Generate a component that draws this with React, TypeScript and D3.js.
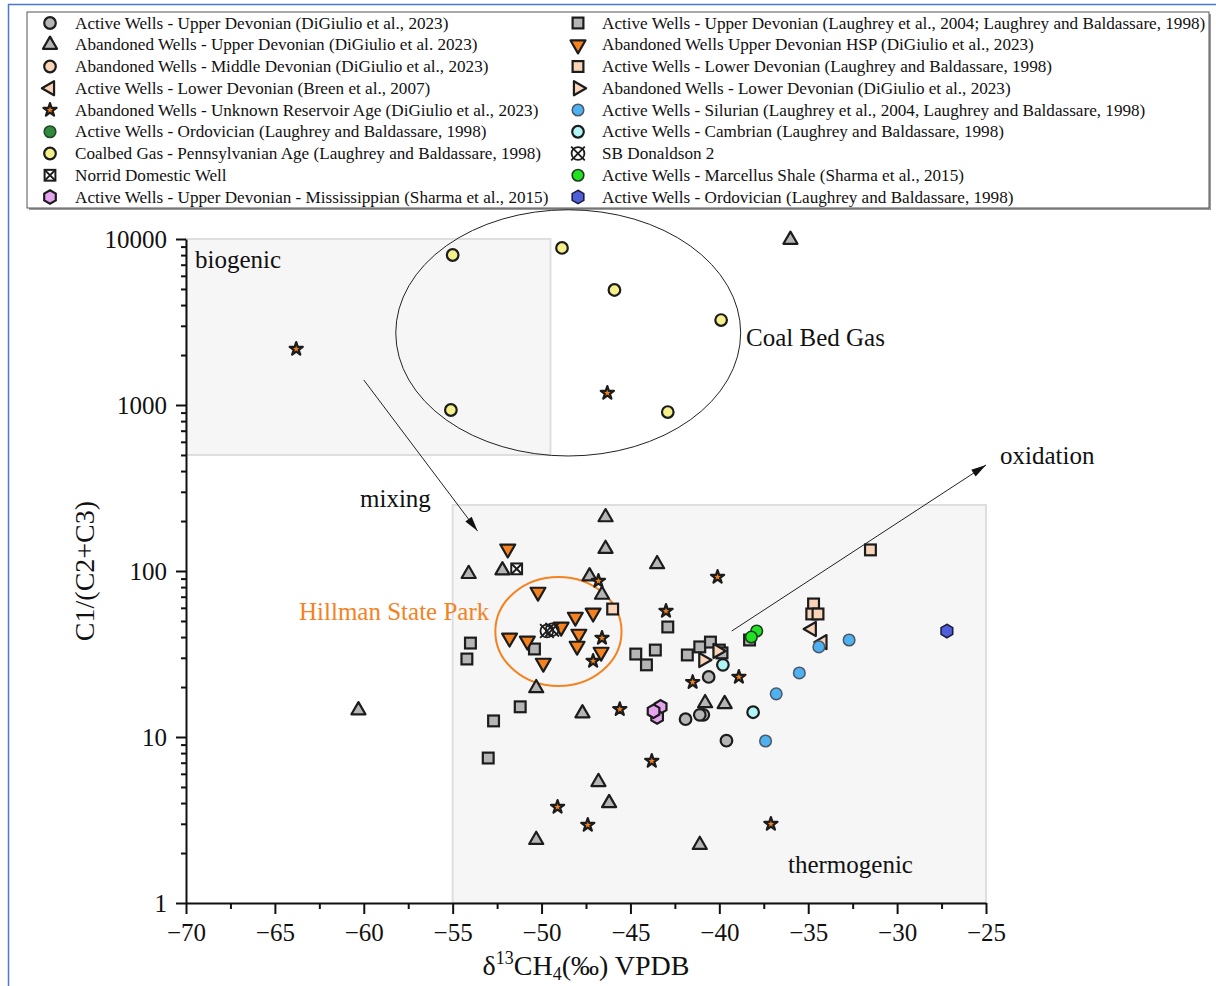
import { useEffect, useRef } from "react";
import * as d3 from "d3";

const W = 1216;
const H = 986;
const X0 = 186;
const X1 = 986;
const Y0 = 903;
const Y1 = 239;
const SERIF = "'Liberation Serif', 'Times New Roman', serif";

// values: [d13C, C1/(C2+C3)]
const activeUpperDevDiGiulio = [[-40.6, 23.0], [-41.9, 12.8], [-40.9, 13.6], [-41.1, 13.6], [-39.6, 9.5]];
const abandonedUpperDev = [
  [-36.0, 9900], [-60.3, 14.5], [-54.1, 96], [-52.2, 101], [-46.4, 211], [-46.4, 136], [-43.5, 110],
  [-47.3, 93], [-46.6, 72], [-50.3, 19.7], [-47.7, 13.9], [-40.8, 16.0], [-39.7, 15.8], [-46.8, 5.36],
  [-46.2, 4.0], [-50.3, 2.4], [-41.1, 2.24],
];
const abandonedMiddleDev: number[][] = [];
const activeLowerDevBreen = [[-34.8, 44.7], [-34.2, 37.3]];
const abandonedUnknown = [
  [-63.8, 2175], [-46.3, 1181], [-46.8, 87], [-43.0, 57.4], [-46.6, 39.5], [-47.1, 28.7], [-40.1, 92],
  [-41.5, 21.4], [-38.9, 23.0], [-45.6, 14.7], [-43.8, 7.17], [-49.1, 3.79], [-47.4, 2.95], [-37.1, 2.99],
];
const activeOrdovicianGreen: number[][] = [];
const coalbedGas = [[-48.85, 8830], [-55.0, 8010], [-45.9, 4930], [-39.9, 3250], [-55.1, 933], [-42.9, 907]];
const norridWell = [[-51.4, 103]];
const sharmaUpperDevMiss = [[-43.3, 15.2], [-43.5, 13.2], [-43.7, 14.3]];
const activeUpperDevLaughrey = [
  [-54.0, 36.8], [-54.2, 29.5], [-52.7, 12.5], [-51.2, 15.2], [-53.0, 7.47], [-50.4, 33.9], [-42.9, 46.0],
  [-44.7, 31.6], [-44.1, 27.2], [-43.6, 33.4], [-41.8, 31.2], [-41.1, 34.9], [-40.5, 37.3], [-40.0, 33.4],
  [-39.85, 32.1], [-38.3, 38.4],
];
const abandonedHSP = [
  [-51.9, 136], [-50.2, 74.7], [-51.8, 39.5], [-50.8, 37.9], [-49.9, 27.9], [-48.9, 46.0], [-48.1, 52.8],
  [-47.1, 55.9], [-47.9, 41.7], [-48.0, 35.3], [-46.65, 32.5],
];
const activeLowerDevLaughrey = [[-31.5, 134], [-34.7, 63.3], [-34.8, 55.1], [-34.45, 55.1], [-46.0, 59.0]];
const abandonedLowerDev = [[-40.9, 29.1], [-40.1, 33.0]];
const silurian = [[-32.7, 38.4], [-34.4, 34.9], [-35.5, 24.3], [-36.8, 18.2], [-37.4, 9.46]];
const cambrian = [[-39.8, 27.2], [-38.1, 14.1]];
const sbDonaldson = [[-49.7, 43.5], [-49.4, 44.3]];
const marcellus = [[-37.9, 43.5], [-38.2, 40.0]];
const ordovicianHex = [[-27.2, 43.5]];

// zones, ellipses and arrows in data units
const biogenicZone = { x: [-70, -49.5], y: [500, 10000] };
const thermogenicZone = { x: [-55, -25], y: [1, 250] };
const coalEllipse = { x: [-58.2, -38.8], y: [493, 15000] };
const hillmanEllipse = { x: [-52.6, -45.5], y: [20.3, 92] };
const mixingArrow = [[-60.0, 1415], [-53.6, 174]];
const oxidationArrow = [[-39.3, 43.5], [-25.0, 435]];

const xTicks = d3.range(-70, -24, 5);
const xMinor = d3.range(-67.5, -25, 5);
const yTicks = [1, 10, 100, 1000, 10000];
const yMinor = [1, 10, 100, 1000].flatMap((d) => d3.range(2, 10).map((k) => k * d));

type Shape = "circle" | "triUp" | "triDown" | "triLeft" | "triRight" | "square" | "star" | "hex" | "squareX" | "circleX";
type Series = { label: string; shape: Shape; fill: string; stroke: string; sw: number; data: number[][] };

const DARK = "#1c1c1c";
const GRAY = "#b5b5b5";
const PEACH = "#f9d4b8";

const leftCol: Series[] = [
  { label: "Active Wells - Upper Devonian (DiGiulio et al., 2023)", shape: "circle", fill: GRAY, stroke: DARK, sw: 2.2, data: activeUpperDevDiGiulio },
  { label: "Abandoned Wells - Upper Devonian (DiGiulio et al. 2023)", shape: "triUp", fill: GRAY, stroke: DARK, sw: 2.2, data: abandonedUpperDev },
  { label: "Abandoned Wells - Middle Devonian (DiGiulio et al., 2023)", shape: "circle", fill: PEACH, stroke: DARK, sw: 2.2, data: abandonedMiddleDev },
  { label: "Active Wells - Lower Devonian (Breen et al., 2007)", shape: "triLeft", fill: PEACH, stroke: DARK, sw: 2.2, data: activeLowerDevBreen },
  { label: "Abandoned Wells - Unknown Reservoir Age (DiGiulio et al., 2023)", shape: "star", fill: "#f0801e", stroke: DARK, sw: 2.2, data: abandonedUnknown },
  { label: "Active Wells - Ordovician (Laughrey and Baldassare, 1998)", shape: "circle", fill: "#338a3c", stroke: "#1d4a22", sw: 1.6, data: activeOrdovicianGreen },
  { label: "Coalbed Gas - Pennsylvanian Age (Laughrey and Baldassare, 1998)", shape: "circle", fill: "#f6f08a", stroke: DARK, sw: 2.2, data: coalbedGas },
  { label: "Norrid Domestic Well", shape: "squareX", fill: "#ffffff", stroke: DARK, sw: 2, data: norridWell },
  { label: "Active Wells - Upper Devonian - Mississippian (Sharma et al., 2015)", shape: "hex", fill: "#e6a4ee", stroke: DARK, sw: 2.2, data: sharmaUpperDevMiss },
];

const rightCol: Series[] = [
  { label: "Active Wells - Upper Devonian (Laughrey et al., 2004; Laughrey and Baldassare, 1998)", shape: "square", fill: GRAY, stroke: DARK, sw: 2.2, data: activeUpperDevLaughrey },
  { label: "Abandoned Wells Upper Devonian HSP (DiGiulio et al., 2023)", shape: "triDown", fill: "#f5821f", stroke: DARK, sw: 2.2, data: abandonedHSP },
  { label: "Active Wells - Lower Devonian (Laughrey and Baldassare, 1998)", shape: "square", fill: PEACH, stroke: DARK, sw: 2.2, data: activeLowerDevLaughrey },
  { label: "Abandoned Wells - Lower Devonian (DiGiulio et al., 2023)", shape: "triRight", fill: PEACH, stroke: DARK, sw: 2.2, data: abandonedLowerDev },
  { label: "Active Wells - Silurian (Laughrey et al., 2004, Laughrey and Baldassare, 1998)", shape: "circle", fill: "#4fb1ef", stroke: "#4a5866", sw: 1.5, data: silurian },
  { label: "Active Wells - Cambrian (Laughrey and Baldassare, 1998)", shape: "circle", fill: "#b0f6f6", stroke: DARK, sw: 2.2, data: cambrian },
  { label: "SB Donaldson 2", shape: "circleX", fill: "none", stroke: DARK, sw: 1.8, data: sbDonaldson },
  { label: "Active Wells - Marcellus Shale (Sharma et al., 2015)", shape: "circle", fill: "#22e022", stroke: "#1e3d1e", sw: 1.6, data: marcellus },
  { label: "Active Wells - Ordovician (Laughrey and Baldassare, 1998)", shape: "hex", fill: "#4f5fd9", stroke: "#1c1c40", sw: 1.6, data: ordovicianHex },
];

// drawing order on the plot (back to front)
const drawOrder: Series[] = [
  rightCol[0], leftCol[1], leftCol[0], leftCol[2], rightCol[2], leftCol[3], rightCol[3], rightCol[5],
  rightCol[4], rightCol[7], rightCol[8], leftCol[8], leftCol[6], leftCol[5], leftCol[4], rightCol[1],
  rightCol[6], leftCol[7],
];

const TRI = d3.symbol().type(d3.symbolTriangle).size(86)()!;
const TRI_DOWN = d3.symbol().type(d3.symbolTriangle).size(96)()!;
const STAR = d3.symbol().type(d3.symbolStar).size(54)()!;
const HEX =
  d3.line()(
    d3.range(6).map((i) => {
      const a = (Math.PI / 3) * i - Math.PI / 2;
      return [6.7 * Math.cos(a), 6.7 * Math.sin(a)] as [number, number];
    })
  ) + "Z";

const Marker = ({ s, x, y }: { s: Series; x: number; y: number }) => {
  const st = { fill: s.fill, stroke: s.stroke, strokeWidth: s.sw };
  const t = `translate(${x},${y})`;
  switch (s.shape) {
    case "circle":
      return <circle cx={x} cy={y} r={5.8} {...st} />;
    case "square":
      return <rect x={x - 5.4} y={y - 5.4} width={10.8} height={10.8} {...st} />;
    case "triUp":
      return <path d={TRI} transform={t} {...st} strokeLinejoin="round" />;
    case "triDown":
      return <path d={TRI_DOWN} transform={`${t} rotate(180)`} {...st} strokeLinejoin="round" />;
    case "triLeft":
      return <path d={TRI} transform={`${t} rotate(-90)`} {...st} strokeLinejoin="round" />;
    case "triRight":
      return <path d={TRI} transform={`${t} rotate(90)`} {...st} strokeLinejoin="round" />;
    case "star":
      return <path d={STAR} transform={t} {...st} strokeLinejoin="round" />;
    case "hex":
      return <path d={HEX} transform={t} {...st} />;
    case "squareX":
      return (
        <g transform={t} {...st}>
          <rect x={-5.4} y={-5.4} width={10.8} height={10.8} />
          <path d="M-5.4,-5.4L5.4,5.4M5.4,-5.4L-5.4,5.4" fill="none" />
        </g>
      );
    case "circleX":
      return (
        <g transform={t} stroke={s.stroke} strokeWidth={s.sw} fill="none">
          <circle r={6.4} />
          <path d="M-6.8,-6.8L6.8,6.8M6.8,-6.8L-6.8,6.8" />
        </g>
      );
  }
  return null;
};

const x = d3.scaleLinear().domain([-70, -25]).range([X0, X1]);
const y = d3.scaleLog().domain([1, 10000]).range([Y0, Y1]);

const ellipseProps = (e: { x: number[]; y: number[] }) => {
  const [l, r] = e.x.map(x);
  const [b, t] = e.y.map(y);
  return { cx: (l + r) / 2, cy: (t + b) / 2, rx: (r - l) / 2, ry: (b - t) / 2 };
};

const zoneProps = (z: { x: number[]; y: number[] }) => ({
  x: x(z.x[0]),
  y: y(z.y[1]),
  width: x(z.x[1]) - x(z.x[0]),
  height: y(z.y[0]) - y(z.y[1]),
});

const Arrow = ({ pts }: { pts: number[][] }) => {
  const [x1, y1] = [x(pts[0][0]), y(pts[0][1])];
  const [x2, y2] = [x(pts[1][0]), y(pts[1][1])];
  const ang = (Math.atan2(y2 - y1, x2 - x1) * 180) / Math.PI;
  return (
    <g>
      <line x1={x1} y1={y1} x2={x2} y2={y2} stroke="#222" strokeWidth={1} />
      <path d="M0,0L-15,-4L-15,4Z" transform={`translate(${x2},${y2}) rotate(${ang})`} fill="#111" />
    </g>
  );
};

export default function App() {
  const xAxisRef = useRef<SVGGElement>(null);
  const yAxisRef = useRef<SVGGElement>(null);

  useEffect(() => {
    const gx = d3.select(xAxisRef.current);
    gx.selectAll("*").remove();
    gx.append("g")
      .call(d3.axisBottom(x).tickValues(xMinor).tickSize(6).tickSizeOuter(0).tickFormat(() => ""))
      .call((g) => g.select(".domain").remove());
    gx.append("g").call(
      d3.axisBottom(x).tickValues(xTicks).tickSize(11).tickSizeOuter(0).tickFormat((d) => d3.format("d")(d as number).replace("-", "\u2212"))
    );
    gx.selectAll("text").attr("y", 38).attr("dy", 0).attr("font-size", 25).attr("font-family", SERIF).attr("fill", "#111");

    const gy = d3.select(yAxisRef.current);
    gy.selectAll("*").remove();
    gy.append("g")
      .call(d3.axisLeft(y).tickValues(yMinor).tickSize(5).tickSizeOuter(0).tickFormat(() => ""))
      .call((g) => g.select(".domain").remove());
    gy.append("g").call(d3.axisLeft(y).tickValues(yTicks).tickSize(10).tickPadding(9).tickSizeOuter(0).tickFormat(d3.format("d")));
    gy.selectAll("text").attr("font-size", 25).attr("font-family", SERIF).attr("fill", "#111");

    [gx, gy].forEach((g) => {
      g.selectAll("line").attr("stroke", "#111").attr("stroke-width", 2);
      g.selectAll(".domain").attr("stroke", "#111").attr("stroke-width", 2);
    });
  }, []);

  const rowY = (i: number) => 23 + i * 21.75;

  return (
    <svg width={W} height={H} style={{ position: "absolute", left: 0, top: 0, background: "#fff" }}>
      {/* page frame */}
      <line x1={8.5} y1={4} x2={8.5} y2={H} stroke="#4a78cf" strokeWidth={1.5} />
      <line x1={8} y1={4.5} x2={W} y2={4.5} stroke="#4a78cf" strokeWidth={1.5} />

      {/* legend */}
      <rect x={29} y={14} width={1182} height={196} fill="#9a9a9a" />
      <rect x={27} y={12} width={1182} height={196} fill="#fff" stroke="#555" strokeWidth={1} />
      {[leftCol, rightCol].map((col, ci) =>
        col.map((s, i) => (
          <g key={`${ci}-${i}`}>
            <Marker s={s} x={ci === 0 ? 50 : 578} y={rowY(i)} />
            <text x={ci === 0 ? 75 : 602} y={rowY(i)} dy="0.33em" fontSize={17.15} fontFamily={SERIF} fill="#111">
              {s.label}
            </text>
          </g>
        ))
      )}

      {/* zones */}
      <rect {...zoneProps(biogenicZone)} fill="#f6f6f6" stroke="#dedede" strokeWidth={2} />
      <rect {...zoneProps(thermogenicZone)} fill="#f6f6f6" stroke="#dedede" strokeWidth={2} />

      <ellipse {...ellipseProps(coalEllipse)} fill="none" stroke="#222" strokeWidth={1} />
      <ellipse {...ellipseProps(hillmanEllipse)} fill="none" stroke="#f5821f" strokeWidth={2} />

      <Arrow pts={mixingArrow} />
      <Arrow pts={oxidationArrow} />

      <g ref={xAxisRef} transform={`translate(0,${Y0})`} />
      <g ref={yAxisRef} transform={`translate(${X0},0)`} />

      {/* points */}
      {drawOrder.map((s, si) => s.data.map((d, i) => <Marker key={`${si}-${i}`} s={s} x={x(d[0])} y={y(d[1])} />))}

      {/* annotations */}
      <g fontFamily={SERIF} fontSize={25} fill="#111">
        <text x={195} y={268}>biogenic</text>
        <text x={746} y={346}>Coal Bed Gas</text>
        <text x={1000} y={464}>oxidation</text>
        <text x={360} y={507}>mixing</text>
        <text x={299} y={620} fill="#f5821f">Hillman State Park</text>
        <text x={788} y={873}>thermogenic</text>
      </g>

      {/* axis titles */}
      <text transform="translate(94,571) rotate(-90)" textAnchor="middle" fontFamily={SERIF} fontSize={28} fill="#111">
        C1/(C2+C3)
      </text>
      <text x={586} y={975} textAnchor="middle" fontFamily={SERIF} fontSize={28} fill="#111">
        δ<tspan fontSize={18} dy={-11}>13</tspan>
        <tspan dy={11}>CH</tspan>
        <tspan fontSize={18} dy={5}>4</tspan>
        <tspan dy={-5}>(‰) VPDB</tspan>
      </text>
    </svg>
  );
}
